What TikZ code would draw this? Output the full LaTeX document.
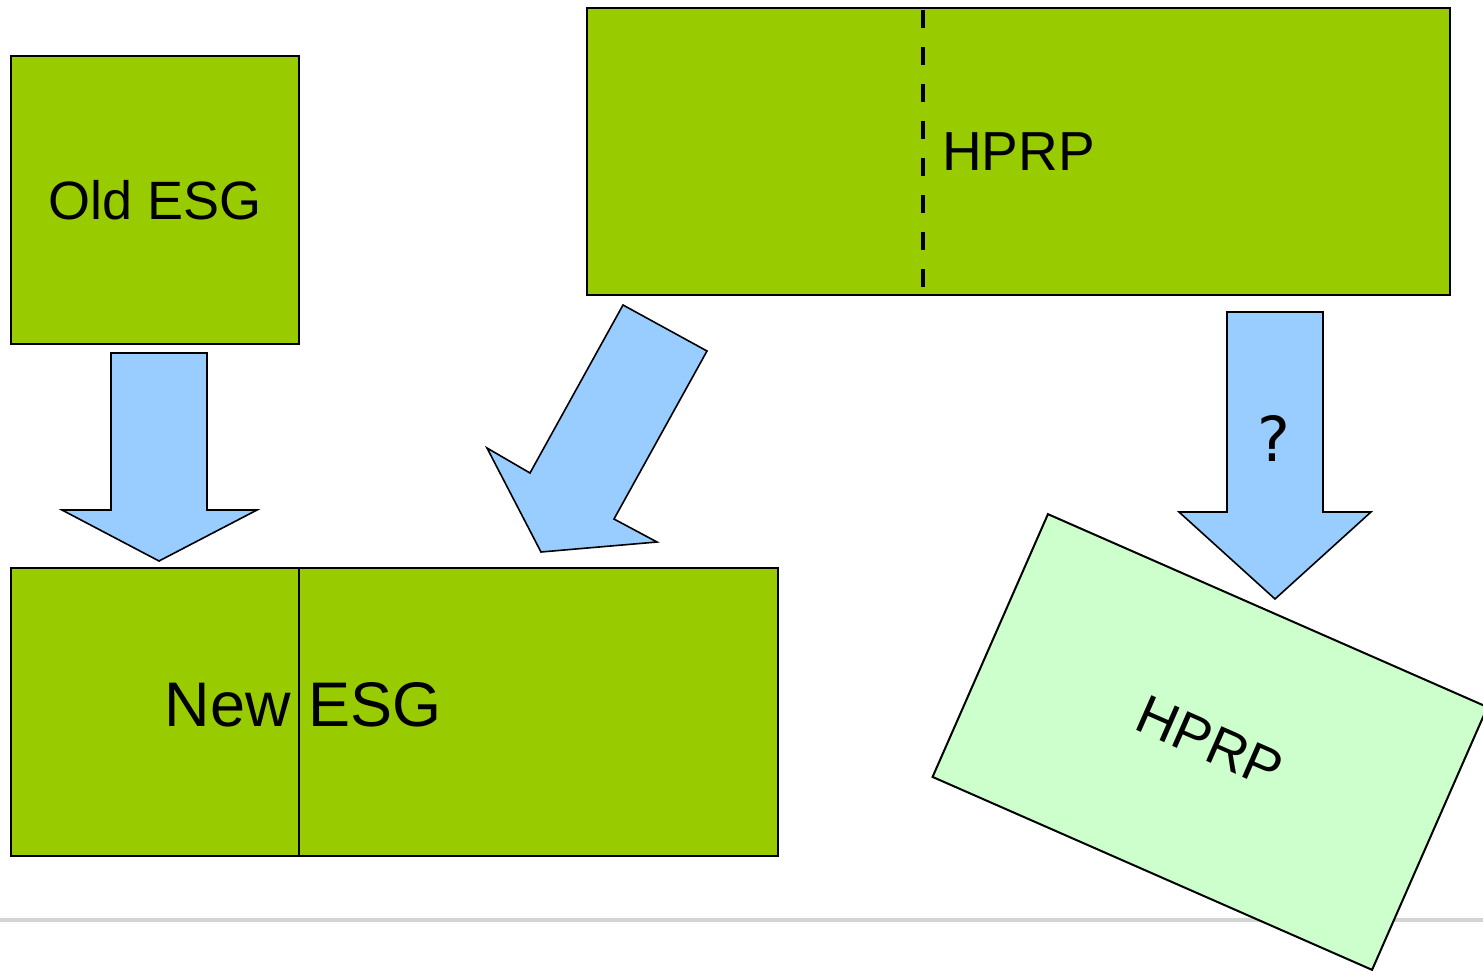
\documentclass[tikz,border=0pt]{standalone}
\usepackage{fontspec}
\setmainfont{Liberation Sans}
\newfontfamily\qfont{DejaVu Sans}
\definecolor{boxgreen}{HTML}{99CC00}
\definecolor{arrowblue}{HTML}{99CCFF}
\definecolor{palegreen}{HTML}{CCFFCC}
\definecolor{rulegray}{HTML}{D4D4D4}
\begin{document}
\begin{tikzpicture}[x=1pt,y=-1pt,
  greenbox/.style={draw=black,line width=2pt,fill=boxgreen,rectangle,inner sep=0pt,outer sep=0pt},
  blockarrow/.style={draw=black,line width=1.6pt,fill=arrowblue,line join=miter},
  lbl/.style={inner sep=0pt,font=\fontsize{#1}{#1}\selectfont},
  lbl/.default=55]
\useasboundingbox (0,0) rectangle (1483,971);
\clip (0,0) rectangle (1483,971);
% bottom rule
\draw[rulegray,line width=4pt] (0,920) -- (1483,920);
% Old ESG
\node[greenbox,minimum width=288pt,minimum height=288pt,anchor=north west,font=\fontsize{54}{54}\selectfont] (old) at (11,56) {Old ESG};
% top HPRP
\node[greenbox,minimum width=863pt,minimum height=287pt,anchor=north west,font=\fontsize{55}{55}\selectfont] (hprp) at (587,8) {HPRP};
\coordinate (dtop) at (923,9);
\coordinate (dbot) at (923,294);
\draw[line width=4pt,dash pattern=on 18pt off 19pt] ([yshift=-1pt]dtop) -- (dbot);
% New ESG
\node[greenbox,minimum width=767pt,minimum height=288pt,anchor=north west] (new) at (11,568) {};
\coordinate (ntop) at (299,568);
\coordinate (nbot) at (299,856);
\draw[line width=2pt] (ntop) -- (nbot);
\node[lbl=63] (newtxt) at (303,705) {New ESG};
% left down arrow
\draw[blockarrow] (111,353) -- (207,353) -- (207,510) -- (257,510) -- (159,561) -- (62,510) -- (111,510) -- cycle;
% diagonal arrow
\draw[blockarrow] (623,305) -- (707,351) -- (614,519) -- (657,542) -- (541,552) -- (487,448) -- (530,473) -- cycle;
% right down arrow
\draw[blockarrow] (1227,312) -- (1323,312) -- (1323,512) -- (1371,512) -- (1275,599) -- (1179,512) -- (1227,512) -- cycle;
\node[inner sep=0pt,font=\qfont\fontsize{62}{62}\selectfont] (q) at (1274,438) {?};
% rotated pale box
\node[draw=black,line width=2pt,fill=palegreen,rectangle,inner sep=0pt,minimum width=480pt,minimum height=287pt,rotate=-23.7,font=\fontsize{55}{55}\selectfont] (hprp2) at (1210,742) {HPRP};
\end{tikzpicture}
\end{document}
